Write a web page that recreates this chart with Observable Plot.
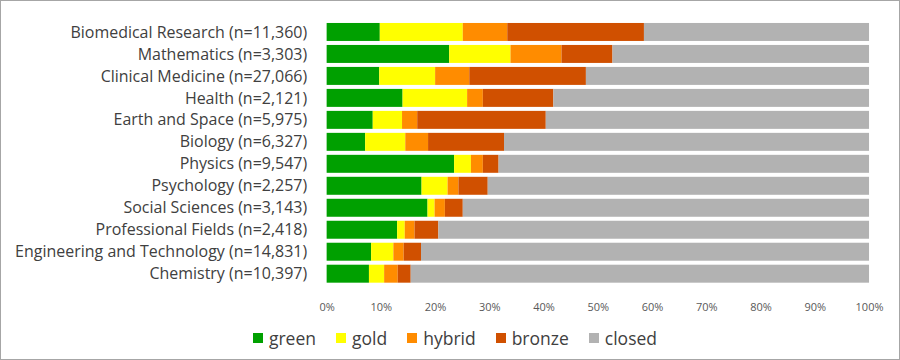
<!DOCTYPE html>
<html>
<head>
<meta charset="utf-8">
<script src="https://cdn.jsdelivr.net/npm/d3@7"></script>
<script src="https://cdn.jsdelivr.net/npm/@observablehq/plot@0.6"></script>
<style>
  html, body { margin: 0; padding: 0; background: #fff; }
  #frame { position: relative; width: 900px; height: 360px; box-sizing: border-box; border: 1px solid #a6a6a6; overflow: hidden; font-family: "Open Sans", sans-serif; }
  #chart { position: absolute; left: -1px; top: -1px; }
  #legend { position: absolute; left: 0; top: 325px; width: 900px; display: flex; justify-content: center; align-items: center; gap: 0; font-size: 17.5px; color: #404040; padding-left: 8px; box-sizing: border-box; }
  .item { display: flex; align-items: center; margin: 0 10px; }
  .sw { width: 10px; height: 10px; margin-right: 6px; }
</style>
</head>
<body>
<div id="frame"><div id="chart"></div><div id="legend"></div></div>
<script>
const categories = ["Biomedical Research", "Mathematics", "Clinical Medicine", "Health", "Earth and Space", "Biology", "Physics", "Psychology", "Social Sciences", "Professional Fields", "Engineering and Technology", "Chemistry"];
const counts = ["11,360", "3,303", "27,066", "2,121", "5,975", "6,327", "9,547", "2,257", "3,143", "2,418", "14,831", "10,397"];
const seriesNames = ["green", "gold", "hybrid", "bronze", "closed"];
const seriesColors = ["#00a000", "#ffff00", "#ff8c00", "#d05000", "#b2b2b2"];
const green  = [9.8, 22.6, 9.7, 14.0, 8.5, 7.1, 23.5, 17.5, 18.6, 13.0, 8.2, 7.8];
const gold   = [15.3, 11.3, 10.3, 11.9, 5.4, 7.4, 3.1, 4.8, 1.3, 1.4, 4.1, 2.8];
const hybrid = [8.2, 9.4, 6.3, 2.9, 2.8, 4.2, 2.2, 2.0, 1.9, 1.8, 1.9, 2.5];
const bronze = [25.2, 9.4, 21.5, 13.0, 23.7, 14.0, 2.9, 5.4, 3.3, 4.4, 3.2, 2.4];
const closed = [41.5, 47.3, 52.2, 58.2, 59.6, 67.3, 68.3, 70.3, 74.9, 79.4, 82.6, 84.5];
const xTicks = [0, 10, 20, 30, 40, 50, 60, 70, 80, 90, 100];

const seriesValues = [green, gold, hybrid, bronze, closed];
const labels = categories.map((c, i) => `${c} (n=${counts[i]})`);
const rows = [];
seriesNames.forEach((s, si) => {
  labels.forEach((lab, ci) => rows.push({label: lab, series: s, order: si, value: seriesValues[si][ci]}));
});

const chart = Plot.plot({
  width: 900,
  height: 322,
  marginLeft: 327,
  marginRight: 30,
  marginTop: 17,
  marginBottom: 34,
  style: {fontFamily: "Open Sans, sans-serif", background: "transparent"},
  x: {domain: [0, 100]},
  y: {domain: labels, paddingInner: 0.185, paddingOuter: 0},
  color: {domain: seriesNames, range: seriesColors},
  marks: [
    Plot.barX(rows, Plot.stackX({x: "value", y: "label", fill: "series", order: seriesNames, inset: 0})),
    Plot.axisX({ticks: xTicks, tickFormat: d => d + "%", tickSize: 0, tickPadding: 15, fontSize: 11, color: "#595959", label: null}),
    Plot.axisY({tickSize: 0, tickPadding: 20, fontSize: 16, color: "#404040", label: null})
  ]
});
document.getElementById("chart").appendChild(chart);

const legend = document.getElementById("legend");
seriesNames.forEach((s, i) => {
  const it = document.createElement("div");
  it.className = "item";
  const sw = document.createElement("div");
  sw.className = "sw";
  sw.style.background = seriesColors[i];
  const t = document.createElement("span");
  t.textContent = s;
  it.appendChild(sw); it.appendChild(t);
  legend.appendChild(it);
});
</script>
</body>
</html>
